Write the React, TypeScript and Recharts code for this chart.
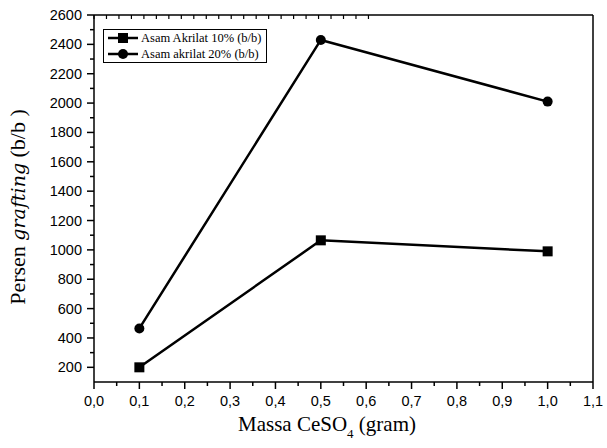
import { LineChart, Line, XAxis, YAxis, Legend } from 'recharts';

// nilai
const massa = [0.1, 0.5, 1.0];
const akrilat10 = [200, 1065, 990];
const akrilat20 = [465, 2430, 2010];

const xMajorTicks = [0, 0.1, 0.2, 0.3, 0.4, 0.5, 0.6, 0.7, 0.8, 0.9, 1.0, 1.1];
const xMinorTicks = [0.05, 0.15, 0.25, 0.35, 0.45, 0.55, 0.65, 0.75, 0.85, 0.95, 1.05];
const yMajorTicks = [200, 400, 600, 800, 1000, 1200, 1400, 1600, 1800, 2000, 2200, 2400, 2600];
const yMinorTicks = [300, 500, 700, 900, 1100, 1300, 1500, 1700, 1900, 2100, 2300, 2500];

const seriesNames = ['Asam Akrilat 10% (b/b)', 'Asam akrilat 20% (b/b)'];

const data = massa.map((m, i) => ({ massa: m, a10: akrilat10[i], a20: akrilat20[i] }));

const xTicks = [...xMajorTicks, ...xMinorTicks].sort((a, b) => a - b);
const yTicks = [...yMajorTicks, ...yMinorTicks].sort((a, b) => a - b);

const SANS = '"Liberation Sans", Arial, sans-serif';
const SERIF = '"Liberation Serif", "Times New Roman", serif';

const fmt = (v: number) => v.toFixed(1).replace('.', ',');

function BottomTick(props: any) {
  const { x, y, payload } = props;
  const major = xMajorTicks.includes(payload.value);
  return (
    <g>
      <line x1={x} y1={y} x2={x} y2={y + (major ? 7 : 4)} stroke='#000' strokeWidth={1.5} />
      {major && (
        <text x={x} y={y + 24} textAnchor='middle' fontSize={14.5} fontFamily={SANS} fill='#000'>
          {fmt(payload.value)}
        </text>
      )}
    </g>
  );
}

function LeftTick(props: any) {
  const { x, y, payload } = props;
  const major = yMajorTicks.includes(payload.value);
  return (
    <g>
      <line x1={x} y1={y} x2={x - (major ? 7 : 4)} y2={y} stroke='#000' strokeWidth={1.5} />
      {major && (
        <text x={x - 12} y={y + 5} textAnchor='end' fontSize={14.5} fontFamily={SANS} fill='#000'>
          {payload.value}
        </text>
      )}
    </g>
  );
}

function TopTick(props: any) {
  const { x, y } = props;
  return <line x1={x} y1={y} x2={x} y2={y + 4} stroke='#000' strokeWidth={1.2} />;
}

function RightTick(props: any) {
  const { x, y } = props;
  return <line x1={x} y1={y} x2={x - 4} y2={y} stroke='#000' strokeWidth={1.2} />;
}

function SquareDot(props: any) {
  const { cx, cy } = props;
  return <rect key={`sq-${cx}`} x={cx - 5} y={cy - 5} width={10} height={10} fill='#000' />;
}

function LegendBox() {
  const row = (i: number) => (
    <div key={i} style={{ display: 'flex', alignItems: 'center', height: 16 }}>
      <svg width={30} height={12}>
        <line x1={0} y1={6} x2={30} y2={6} stroke='#000' strokeWidth={2.5} />
        {i === 0 ? <rect x={10} y={1} width={10} height={10} fill='#000' /> : <circle cx={15} cy={6} r={5} fill='#000' />}
      </svg>
      <span style={{ marginLeft: 3, fontFamily: SERIF, fontSize: 12.5, color: '#000', whiteSpace: 'nowrap' }}>
        {seriesNames[i]}
      </span>
    </div>
  );
  return (
    <div style={{ border: '1px solid #000', padding: '0 2px 0 4px', background: '#fff', width: 156 }}>
      {row(0)}
      {row(1)}
    </div>
  );
}

function YLabel() {
  const cx = 25;
  const cy = 207;
  return (
    <text
      x={cx}
      y={cy}
      transform={`rotate(-90, ${cx}, ${cy})`}
      textAnchor='middle'
      fontFamily={SERIF}
      fontSize={22}
      fill='#000'
    >
      Persen{' '}
      <tspan fontStyle='italic' fontFamily='"DejaVu Serif", serif' fontSize={19}>
        grafting
      </tspan>{' '}
      (b/b )
    </text>
  );
}

function XLabel() {
  return (
    <text x={327} y={431} textAnchor='middle' fontFamily={SERIF} fontSize={21} fill='#000'>
      Massa CeSO
      <tspan fontSize={13} dy={7}>4</tspan>
      <tspan dy={-7}> (gram)</tspan>
    </text>
  );
}

export default function App() {
  return (
    <div style={{ position: 'absolute', left: 0, top: 0, background: '#fff' }}>
      <LineChart width={607} height={448} data={data} margin={{ top: 14, right: 13, bottom: 36, left: 34 }}>
        <XAxis
          dataKey='massa'
          type='number'
          domain={[0, 1.1]}
          ticks={xTicks}
          interval={0}
          height={30}
          tickSize={0}
          tickMargin={0}
          tickLine={false}
          tick={<BottomTick />}
          axisLine={{ stroke: '#000', strokeWidth: 1.5 }}
          label={<XLabel />}
        />
        <XAxis
          xAxisId='top'
          orientation='top'
          type='number'
          domain={[0, 1.1]}
          ticks={xTicks}
          interval={0}
          height={1}
          tickSize={0}
          tickMargin={0}
          tickLine={false}
          tick={<TopTick />}
          axisLine={{ stroke: '#000', strokeWidth: 1.5 }}
        />
        <YAxis
          type='number'
          domain={[100, 2600]}
          ticks={yTicks}
          interval={0}
          width={60}
          tickSize={0}
          tickMargin={0}
          tickLine={false}
          tick={<LeftTick />}
          axisLine={{ stroke: '#000', strokeWidth: 1.5 }}
          label={<YLabel />}
        />
        <YAxis
          yAxisId='right'
          orientation='right'
          type='number'
          domain={[100, 2600]}
          ticks={yTicks}
          interval={0}
          width={1}
          tickSize={0}
          tickMargin={0}
          tickLine={false}
          tick={<RightTick />}
          axisLine={{ stroke: '#000', strokeWidth: 1.5 }}
        />
        <Legend
          layout='vertical'
          align='center'
          verticalAlign='middle'
          content={<LegendBox />}
          wrapperStyle={{ left: 103, top: 29, width: 'auto' }}
        />
        <Line
          dataKey='a10'
          name={seriesNames[0]}
          stroke='#000'
          strokeWidth={2.5}
          dot={<SquareDot />}
          activeDot={false}
          isAnimationActive={false}
        />
        <Line
          dataKey='a20'
          name={seriesNames[1]}
          stroke='#000'
          strokeWidth={2.5}
          dot={{ r: 5, fill: '#000', stroke: '#000', strokeWidth: 0 }}
          activeDot={false}
          isAnimationActive={false}
        />
      </LineChart>
    </div>
  );
}
